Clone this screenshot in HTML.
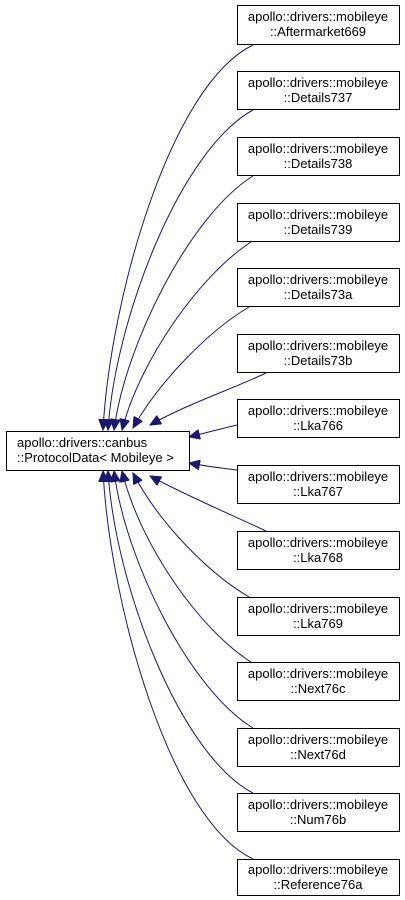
<!DOCTYPE html>
<html><head><meta charset="utf-8"><style>
body{margin:0;background:#fff;width:405px;height:900px;overflow:hidden}
svg{display:block}
text{font-family:"Liberation Sans",sans-serif;font-size:13px;fill:#000}
</style></head><body>
<svg width="405" height="900" viewBox="0 0 405 900">
<defs>
<marker id="a" markerUnits="userSpaceOnUse" markerWidth="12" markerHeight="10" refX="11" refY="5" orient="auto">
<path d="M0,0 L11,5 L0,10 Z" fill="#191970" stroke="#191970"/>
</marker>
</defs>
<g fill="none" stroke="#191970" stroke-width="1" marker-end="url(#a)">
<path d="M253,45 C170,85 110,300 103,430"/>
<path d="M253,110 C180,150 115,320 108,430"/>
<path d="M253,176 C190,215 125,345 114,430"/>
<path d="M251,242 C200,275 140,360 122,430"/>
<path d="M249,307 C210,330 160,380 133,428"/>
<path d="M266,373 C230,390 185,405 150,425"/>
<path d="M237,425 C220,429 205,433 189,437"/>
<path d="M237,470 C220,468 205,466 189,463"/>
<path d="M266,531 C230,514 185,495 150,476"/>
<path d="M249,597 C210,574 160,525 133,473"/>
<path d="M251,662 C200,630 140,545 122,471"/>
<path d="M253,728 C190,690 125,560 114,471"/>
<path d="M253,793 C180,755 115,585 108,471"/>
<path d="M253,859 C170,820 110,605 103,471"/>
</g>
<g fill="#fff" stroke="#000" stroke-width="1">
<rect x="6.5" y="431.5" width="183" height="39"/>
<rect x="237.5" y="5.5" width="162" height="39"/>
<rect x="237.5" y="71.5" width="162" height="38"/>
<rect x="237.5" y="137.5" width="162" height="38"/>
<rect x="237.5" y="203.5" width="162" height="38"/>
<rect x="237.5" y="268.5" width="162" height="38"/>
<rect x="237.5" y="334.5" width="162" height="38"/>
<rect x="237.5" y="399.5" width="162" height="38"/>
<rect x="237.5" y="465.5" width="162" height="38"/>
<rect x="237.5" y="531.5" width="162" height="38"/>
<rect x="237.5" y="597.5" width="162" height="38"/>
<rect x="237.5" y="662.5" width="162" height="38"/>
<rect x="237.5" y="728.5" width="162" height="38"/>
<rect x="237.5" y="793.5" width="162" height="38"/>
<rect x="237.5" y="859.5" width="162" height="36"/>
</g>
<text x="17" y="447">apollo::drivers::canbus</text>
<text x="17" y="462">::ProtocolData&lt; Mobileye &gt;</text>
<g text-anchor="middle">
<text x="318" y="21">apollo::drivers::mobileye</text><text x="318" y="36">::Aftermarket669</text>
<text x="318" y="87">apollo::drivers::mobileye</text><text x="318" y="102">::Details737</text>
<text x="318" y="153">apollo::drivers::mobileye</text><text x="318" y="168">::Details738</text>
<text x="318" y="219">apollo::drivers::mobileye</text><text x="318" y="234">::Details739</text>
<text x="318" y="284">apollo::drivers::mobileye</text><text x="318" y="299">::Details73a</text>
<text x="318" y="350">apollo::drivers::mobileye</text><text x="318" y="365">::Details73b</text>
<text x="318" y="415">apollo::drivers::mobileye</text><text x="318" y="430">::Lka766</text>
<text x="318" y="481">apollo::drivers::mobileye</text><text x="318" y="496">::Lka767</text>
<text x="318" y="547">apollo::drivers::mobileye</text><text x="318" y="562">::Lka768</text>
<text x="318" y="613">apollo::drivers::mobileye</text><text x="318" y="628">::Lka769</text>
<text x="318" y="678">apollo::drivers::mobileye</text><text x="318" y="693">::Next76c</text>
<text x="318" y="744">apollo::drivers::mobileye</text><text x="318" y="759">::Next76d</text>
<text x="318" y="809">apollo::drivers::mobileye</text><text x="318" y="824">::Num76b</text>
<text x="318" y="874">apollo::drivers::mobileye</text><text x="318" y="889">::Reference76a</text>
</g>
</svg>
</body></html>
